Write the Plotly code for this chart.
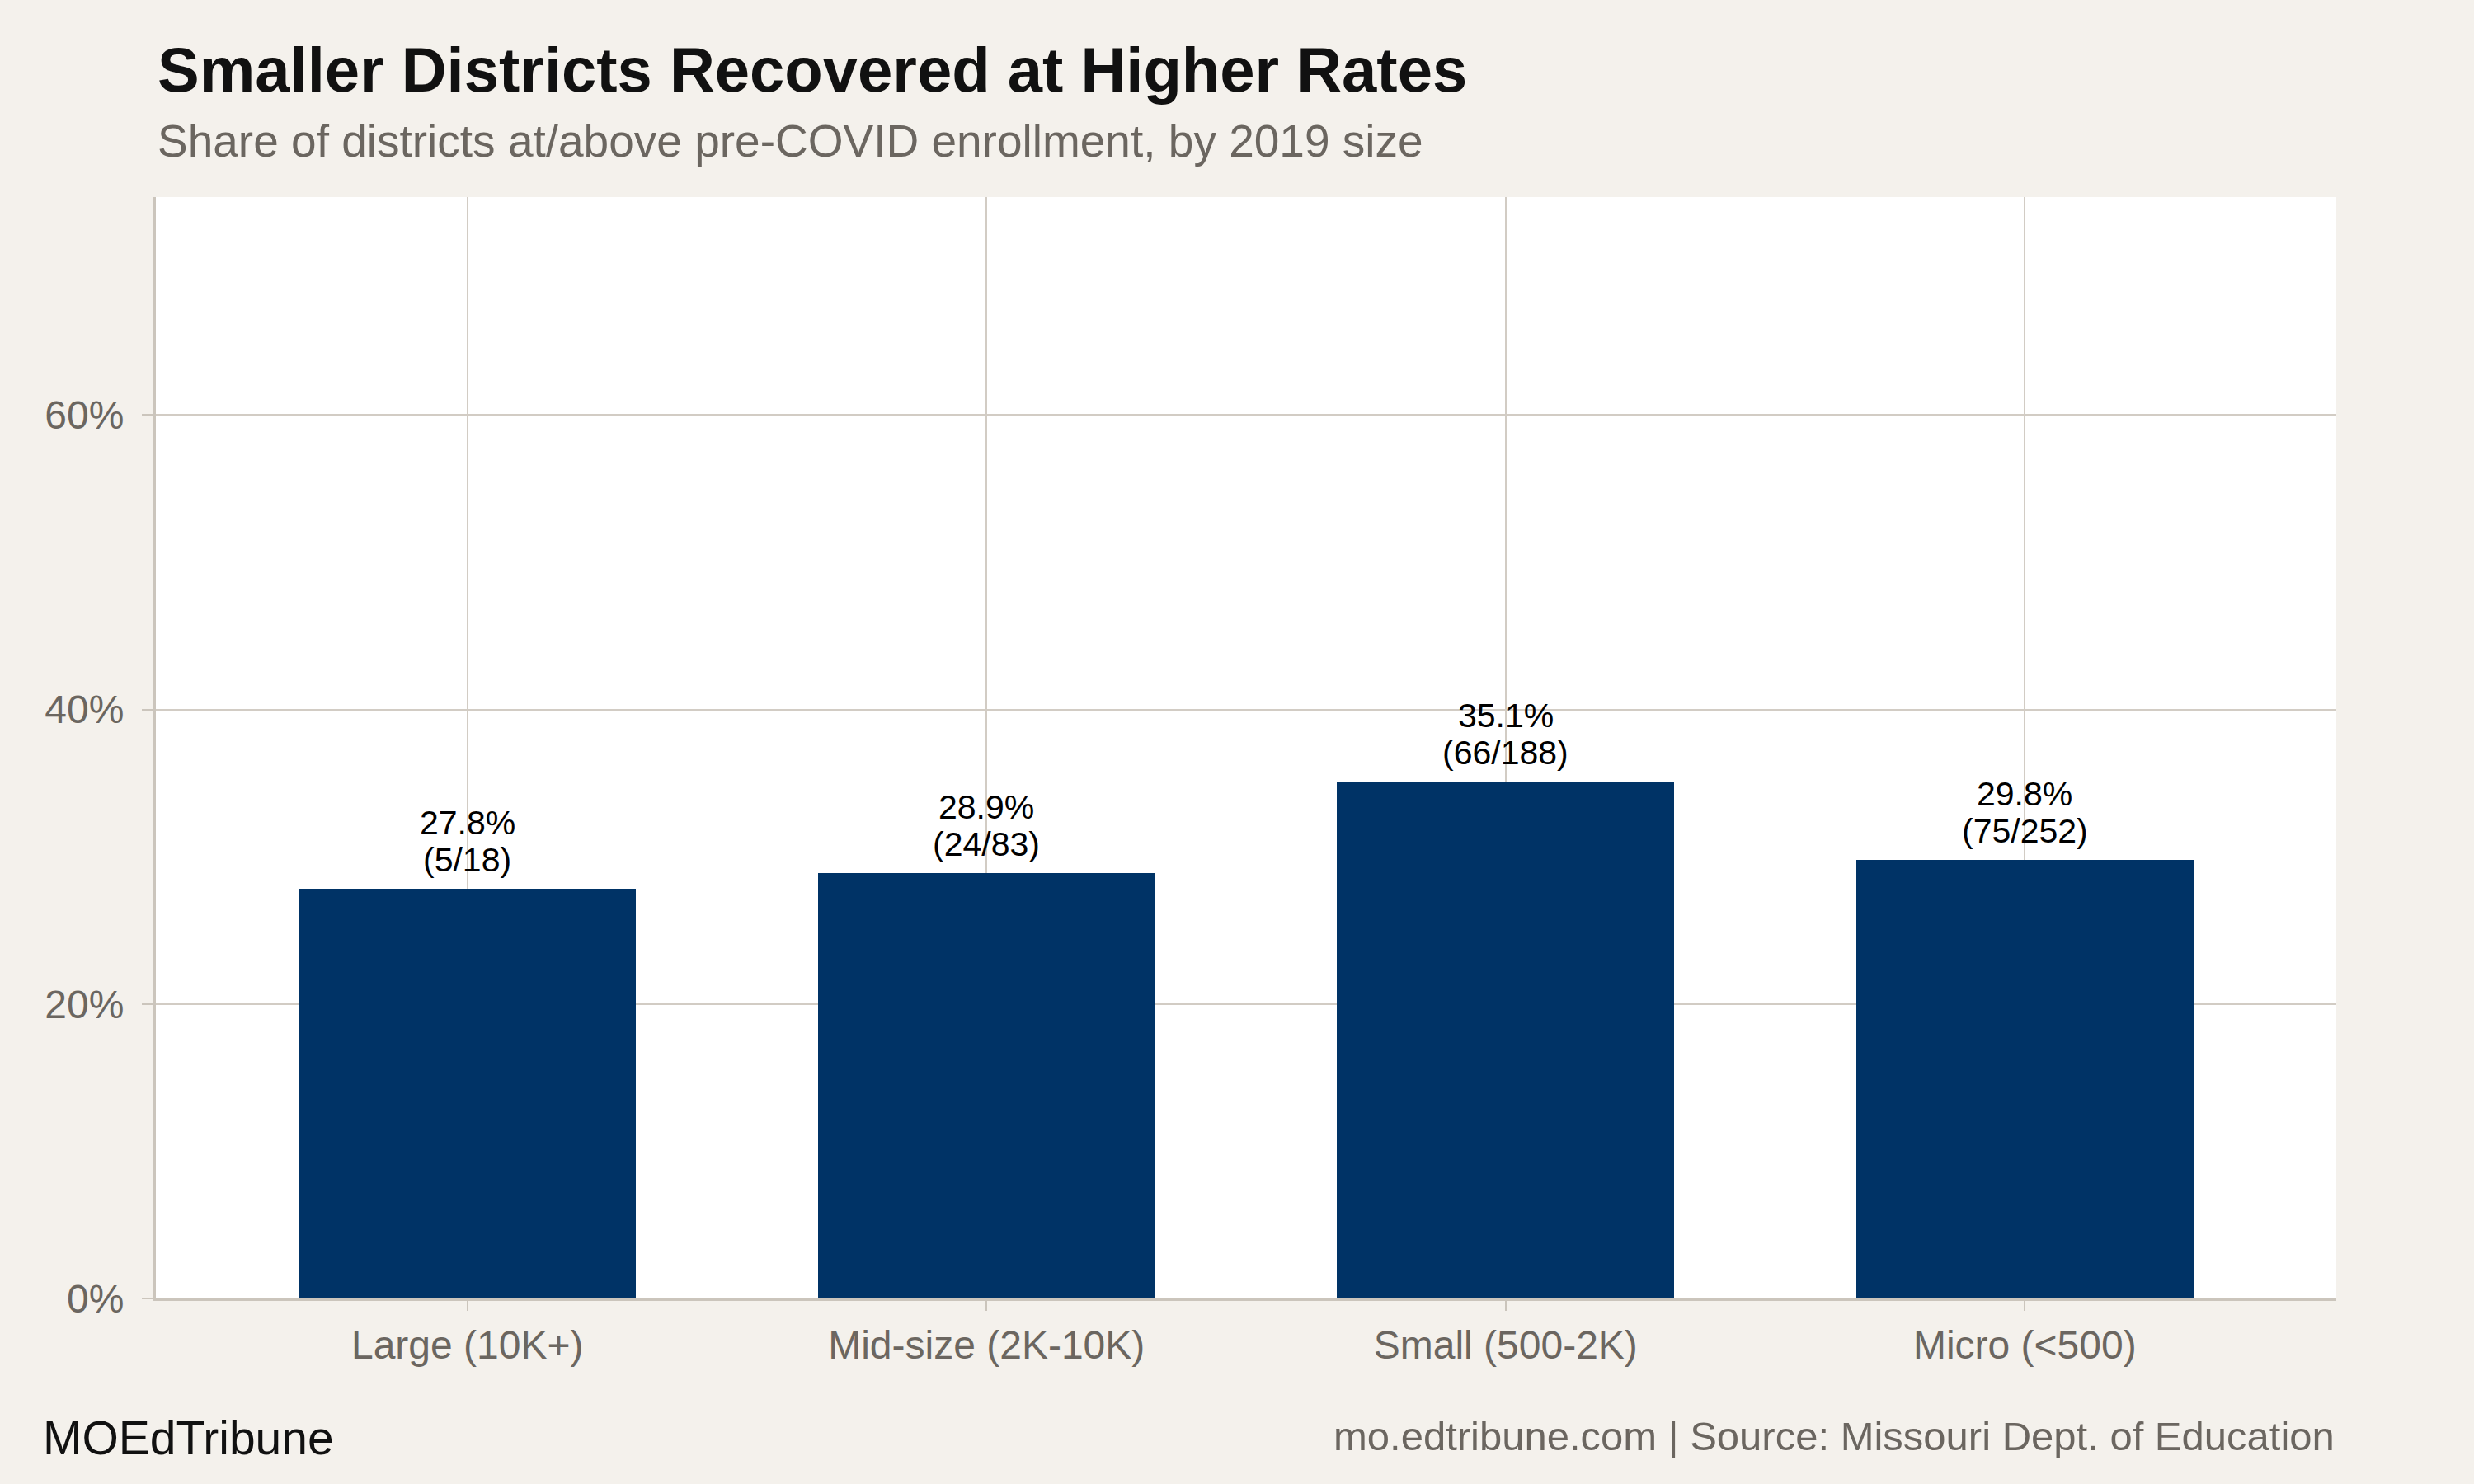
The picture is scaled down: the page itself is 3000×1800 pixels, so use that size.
import plotly.graph_objects as go

categories = ["Large (10K+)", "Mid-size (2K-10K)", "Small (500-2K)", "Micro (<500)"]
pct_recovered = [27.8, 28.9, 35.1, 29.8]
n_recovered = [5, 24, 66, 75]
n_total = [18, 83, 188, 252]
y_ticks = [0, 20, 40, 60]
y_tick_labels = ["0%", "20%", "40%", "60%"]

BG = "#f4f1ec"
BAR = "#003366"
GRID = "#d2ccc4"
AXIS = "#cbc5bc"
GRAY = "#6b6660"
FONT = "Liberation Sans"

fig = go.Figure()
fig.add_trace(go.Bar(
    x=categories, y=pct_recovered, width=0.65,
    marker=dict(color=BAR, line=dict(width=0)),
    hoverinfo="skip", showlegend=False,
))

annotations = []
for c, p, r, t in zip(categories, pct_recovered, n_recovered, n_total):
    annotations.append(dict(x=c, y=p, xref="x", yref="y", text=f"({r}/{t})",
                            showarrow=False, yanchor="bottom", yshift=10,
                            font=dict(family=FONT, size=41, color="#000000")))
    annotations.append(dict(x=c, y=p, xref="x", yref="y", text=f"{p:.1f}%",
                            showarrow=False, yanchor="bottom", yshift=55,
                            font=dict(family=FONT, size=41, color="#000000")))

annotations += [
    dict(xref="paper", yref="paper", x=0, y=1.0823, xanchor="left", yanchor="bottom",
         text="<b>Smaller Districts Recovered at Higher Rates</b>", showarrow=False,
         font=dict(family=FONT, size=76, color="#111111")),
    dict(xref="paper", yref="paper", x=0, y=1.0262, xanchor="left", yanchor="bottom",
         text="Share of districts at/above pre-COVID enrollment, by 2019 size", showarrow=False,
         font=dict(family=FONT, size=55, color=GRAY)),
    dict(xref="paper", yref="paper", x=-0.0526, y=-0.152, xanchor="left", yanchor="bottom",
         text="MOEdTribune", showarrow=False,
         font=dict(family=FONT, size=57, color="#111111")),
    dict(xref="paper", yref="paper", x=1, y=-0.1467, xanchor="right", yanchor="bottom",
         text="mo.edtribune.com | Source: Missouri Dept. of Education", showarrow=False,
         font=dict(family=FONT, size=49, color=GRAY)),
]

fig.update_layout(
    width=3000, height=1800,
    margin=dict(l=189, r=167, t=239, b=225),
    paper_bgcolor=BG, plot_bgcolor="#ffffff",
    annotations=annotations,
    bargap=0,
    font=dict(family=FONT),
)
fig.update_xaxes(
    range=[-0.6, 3.6], showgrid=True, gridcolor=GRID, gridwidth=2,
    showline=True, linecolor=AXIS, linewidth=3,
    ticks="outside", ticklen=12, tickwidth=2, tickcolor=AXIS,
    tickfont=dict(family=FONT, size=48, color=GRAY),
    zeroline=False, fixedrange=True,
)
fig.update_yaxes(
    range=[0, 74.8], tickvals=y_ticks, ticktext=y_tick_labels,
    showgrid=True, gridcolor=GRID, gridwidth=2,
    showline=True, linecolor=AXIS, linewidth=3,
    ticks="outside", ticklen=14, tickwidth=2, tickcolor=AXIS,
    tickfont=dict(family=FONT, size=48, color=GRAY), ticklabelstandoff=12,
    zeroline=False, fixedrange=True,
)

fig.write_html("out.html")
